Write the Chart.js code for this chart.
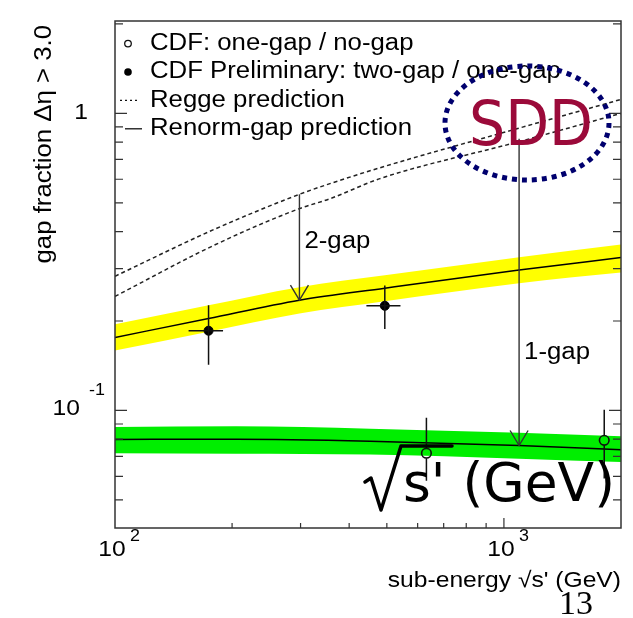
<!DOCTYPE html>
<html>
<head>
<meta charset="utf-8">
<script src="https://cdn.jsdelivr.net/npm/chart.js@4.4.1/dist/chart.umd.min.js"></script>
<style>
  html, body { margin: 0; padding: 0; background: #ffffff; }
  canvas { display: block; }
</style>
</head>
<body>
<canvas id="gapChart" width="633" height="618"></canvas>
<script>
// --- data (sub-energy in GeV, gap fraction) ---

// yellow band: two-gap / one-gap Renorm-gap prediction
const yellowX = [100, 174, 298, 494, 1094, 2000];
const yellowMid = [0.176, 0.204, 0.235, 0.258, 0.297, 0.327];
const yellowHi = [0.195, 0.226, 0.260, 0.285, 0.328, 0.362];
const yellowLo = [0.159, 0.184, 0.212, 0.233, 0.268, 0.291];

// green band: one-gap / no-gap Renorm-gap prediction
const greenX = [100, 205, 453, 1094, 2000];
const greenMid = [0.0799, 0.0800, 0.0788, 0.0762, 0.0737];
const greenHi = [0.0879, 0.0884, 0.0868, 0.0841, 0.0819];
const greenLo = [0.0718, 0.0715, 0.0710, 0.0688, 0.0670];

// Regge predictions (dotted)
const reggeX = [100, 180, 298, 357, 480, 1094, 2000];
const reggeUpper = [0.283, 0.407, 0.534, 0.580, 0.656, 0.892, 1.114];
const reggeLower = [0.242, 0.360, 0.478, 0.516, 0.603, 0.803, 1.000];

// CDF Preliminary: two-gap / one-gap (filled)
const twoGapX = [174, 494];
const twoGapY = [0.1855, 0.225];
const twoGapYLo = [0.1426, 0.188];
const twoGapYHi = [0.226, 0.2636];
const twoGapXLo = [154.6, 443];
const twoGapXHi = [189.6, 542];

// CDF: one-gap / no-gap (open)
const oneGapX = [632, 1811];
const oneGapY = [0.0718, 0.0793];
const oneGapYLo = [0.058, 0.059];
const oneGapYHi = [0.0945, 0.1005];

// suppression arrows
const arrowX = [298, 1094];
const arrowFrom = [0.534, 0.822];
const arrowTo = [0.235, 0.0762];
const arrowText = ['2-gap', '1-gap'];
const arrowTextY = [0.371, 0.157];

// axes
const xRange = [100, 2000];
const yRange = [0.0402, 2.046];
const xMajorTicks = [1000];
const xMinorTicks = [200, 300, 400, 500, 600, 700, 800, 900];
const yMajorTicks = [0.1, 1];
const yMinorTicks = [0.05, 0.06, 0.07, 0.08, 0.09, 0.2, 0.3, 0.4, 0.5, 0.6, 0.7, 0.8, 0.9, 2];
const xTickLabels = [[100, '10', '2'], [1000, '10', '3']];
const yTickLabels = [[1, '1', ''], [0.1, '10', '-1']];

const legendItems = [
    ['open', 'CDF: one-gap / no-gap'],
    ['filled', 'CDF Preliminary: two-gap / one-gap'],
    ['dotted', 'Regge prediction'],
    ['solid', 'Renorm-gap prediction']
];
const xTitle = "sub-energy \u221As' (GeV)";
const yTitle = 'gap fraction \u0394\u03B7 > 3.0';

const SANS = '"Liberation Sans", Arial, Helvetica, sans-serif';
const STRETCH = 1.12;

function pts(xs, ys) {
    return xs.map((x, i) => ({ x: x, y: ys[i] }));
}

// text with the slight horizontal stretch of the original scan
function txt(ctx, s, x, y, size, align, color, font) {
    ctx.save();
    ctx.translate(x, y);
    ctx.scale(STRETCH, 1);
    ctx.font = size + 'px ' + (font || SANS);
    ctx.fillStyle = color || '#000';
    ctx.textAlign = align || 'left';
    ctx.textBaseline = 'middle';
    ctx.fillText(s, 0, 0);
    ctx.restore();
}

function arrowHead(ctx, x, y) {
    ctx.beginPath();
    ctx.moveTo(x - 9, y - 15);
    ctx.lineTo(x, y);
    ctx.lineTo(x + 9, y - 15);
    ctx.stroke();
}

const overlay = {
    id: 'overlay',
    afterDatasetsDraw(chart) {
        const { ctx, scales: { x, y } } = chart;
        ctx.save();
        ctx.strokeStyle = '#111';
        ctx.lineWidth = 1.5;

        // error bars, filled points
        twoGapX.forEach((v, i) => {
            const px = x.getPixelForValue(v), py = y.getPixelForValue(twoGapY[i]);
            ctx.beginPath();
            ctx.moveTo(px, y.getPixelForValue(twoGapYHi[i]));
            ctx.lineTo(px, y.getPixelForValue(twoGapYLo[i]));
            ctx.moveTo(x.getPixelForValue(twoGapXLo[i]), py);
            ctx.lineTo(x.getPixelForValue(twoGapXHi[i]), py);
            ctx.stroke();
        });
        // error bars, open points (stop at the circle)
        oneGapX.forEach((v, i) => {
            const px = x.getPixelForValue(v), py = y.getPixelForValue(oneGapY[i]);
            ctx.beginPath();
            ctx.moveTo(px, y.getPixelForValue(oneGapYHi[i]));
            ctx.lineTo(px, py - 5);
            ctx.moveTo(px, py + 5);
            ctx.lineTo(px, y.getPixelForValue(oneGapYLo[i]));
            ctx.stroke();
        });

        // arrows
        ctx.strokeStyle = '#333';
        ctx.lineWidth = 1.4;
        arrowX.forEach((v, i) => {
            const px = x.getPixelForValue(v);
            const y1 = y.getPixelForValue(arrowFrom[i]), y2 = y.getPixelForValue(arrowTo[i]);
            ctx.beginPath();
            ctx.moveTo(px, y1);
            ctx.lineTo(px, y2);
            ctx.stroke();
            arrowHead(ctx, px, y2);
            txt(ctx, arrowText[i], px + 5, y.getPixelForValue(arrowTextY[i]), 23, 'left');
        });
        ctx.restore();
    },
    afterDraw(chart) {
        const { ctx, chartArea: a, scales: { x, y } } = chart;
        ctx.save();

        // frame
        ctx.strokeStyle = '#333';
        ctx.lineWidth = 1.5;
        ctx.strokeRect(a.left, a.top, a.right - a.left, a.bottom - a.top);

        // tick marks, pointing inward
        ctx.lineWidth = 1.2;
        ctx.beginPath();
        yMajorTicks.concat(yMinorTicks).forEach(v => {
            const len = yMajorTicks.includes(v) ? 12 : 8;
            const py = y.getPixelForValue(v);
            ctx.moveTo(a.left, py); ctx.lineTo(a.left + len, py);
            ctx.moveTo(a.right, py); ctx.lineTo(a.right - len, py);
        });
        xMajorTicks.concat(xMinorTicks).forEach(v => {
            const len = xMajorTicks.includes(v) ? 10 : 5;
            const px = x.getPixelForValue(v);
            ctx.moveTo(px, a.bottom); ctx.lineTo(px, a.bottom - len);
        });
        ctx.stroke();

        // tick labels
        yTickLabels.forEach(([v, base, sup]) => {
            const py = y.getPixelForValue(v);
            if (sup) {
                txt(ctx, base, a.left - 35, py - 1, 22, 'right');
                txt(ctx, sup, a.left - 26, py - 20, 16, 'left');
            } else {
                txt(ctx, base, a.left - 27, py, 22, 'right');
            }
        });
        xTickLabels.forEach(([v, base, sup]) => {
            const px = x.getPixelForValue(v);
            txt(ctx, base, px - 3, a.bottom + 22, 22, 'center');
            txt(ctx, sup, px + 15, a.bottom + 9, 16, 'left');
        });

        // axis titles
        txt(ctx, xTitle, a.right, a.bottom + 53, 22, 'right');
        ctx.save();
        ctx.translate(45, a.top + 4);
        ctx.rotate(-Math.PI / 2);
        ctx.scale(STRETCH, 1);
        ctx.font = '23px ' + SANS;
        ctx.fillStyle = '#000';
        ctx.textAlign = 'right';
        ctx.textBaseline = 'middle';
        ctx.fillText(yTitle, 0, 0);
        ctx.restore();

        // legend
        legendItems.forEach(([kind, label], i) => {
            const ly = a.top + 22.6 + i * 28.4;
            const mx = a.left + 13;
            ctx.strokeStyle = '#111';
            ctx.fillStyle = '#000';
            ctx.lineWidth = 1.3;
            ctx.setLineDash([]);
            ctx.beginPath();
            if (kind === 'open') {
                ctx.arc(mx, ly, 3.3, 0, Math.PI * 2);
                ctx.stroke();
            } else if (kind === 'filled') {
                ctx.arc(mx, ly, 3.8, 0, Math.PI * 2);
                ctx.fill();
            } else if (kind === 'dotted') {
                ctx.setLineDash([2, 3]);
                ctx.moveTo(mx - 8, ly); ctx.lineTo(mx + 12, ly);
                ctx.stroke();
                ctx.setLineDash([]);
            } else {
                ctx.moveTo(mx - 3, ly); ctx.lineTo(mx + 14, ly);
                ctx.stroke();
            }
            txt(ctx, label, a.left + 35, ly, 23, 'left');
        });

        // SDD annotation
        ctx.save();
        ctx.strokeStyle = '#00006e';
        ctx.lineWidth = 5;
        ctx.setLineDash([5, 5]);
        ctx.beginPath();
        ctx.ellipse(a.left + 412, a.top + 102, 82, 57, 0, 0, Math.PI * 2);
        ctx.stroke();
        ctx.restore();
        ctx.save();
        ctx.font = '62px "DejaVu Sans", sans-serif';
        ctx.fillStyle = '#9b0a3a';
        ctx.textAlign = 'center';
        ctx.textBaseline = 'middle';
        ctx.fillText('SDD', a.left + 416, a.top + 108, 124);
        ctx.restore();

        // handwritten sqrt(s') (GeV)
        ctx.save();
        ctx.strokeStyle = '#000';
        ctx.lineWidth = 3.5;
        ctx.lineJoin = 'round';
        ctx.lineCap = 'round';
        ctx.beginPath();
        ctx.moveTo(a.left + 250, a.top + 461);
        ctx.lineTo(a.left + 256, a.top + 457);
        ctx.lineTo(a.left + 266, a.top + 489);
        ctx.lineTo(a.left + 286, a.top + 425);
        ctx.lineTo(a.left + 337, a.top + 425);
        ctx.stroke();
        ctx.font = '54px "DejaVu Sans", sans-serif';
        ctx.fillStyle = '#000';
        ctx.textAlign = 'left';
        ctx.textBaseline = 'alphabetic';
        ctx.fillText("s' (GeV)", a.left + 288, a.top + 480, 212);
        ctx.restore();

        // page number
        ctx.font = '34px "Liberation Serif", serif';
        ctx.fillStyle = '#000';
        ctx.textAlign = 'center';
        ctx.textBaseline = 'alphabetic';
        ctx.fillText('13', 576, 614);

        ctx.restore();
    }
};

const ctx = document.getElementById('gapChart').getContext('2d');
const gapChart = new Chart(ctx, {
    type: 'line',
    data: {
        datasets: [
            {
                data: pts(yellowX, yellowLo),
                borderWidth: 0, pointRadius: 0, fill: false,
                cubicInterpolationMode: 'monotone', order: 3
            },
            {
                data: pts(yellowX, yellowHi),
                borderWidth: 0, pointRadius: 0, fill: '-1',
                backgroundColor: '#ffff00',
                cubicInterpolationMode: 'monotone', order: 3
            },
            {
                data: pts(greenX, greenLo),
                borderWidth: 0, pointRadius: 0, fill: false,
                cubicInterpolationMode: 'monotone', order: 3
            },
            {
                data: pts(greenX, greenHi),
                borderWidth: 0, pointRadius: 0, fill: '-1',
                backgroundColor: '#00ee00',
                cubicInterpolationMode: 'monotone', order: 3
            },
            {
                label: 'Renorm-gap prediction',
                data: pts(yellowX, yellowMid),
                borderColor: '#000', borderWidth: 1.5, pointRadius: 0,
                cubicInterpolationMode: 'monotone', order: 2
            },
            {
                data: pts(greenX, greenMid),
                borderColor: '#000', borderWidth: 1.5, pointRadius: 0,
                cubicInterpolationMode: 'monotone', order: 2
            },
            {
                label: 'Regge prediction',
                data: pts(reggeX, reggeUpper),
                borderColor: '#222', borderWidth: 1.5, borderDash: [4, 3], pointRadius: 0,
                cubicInterpolationMode: 'monotone', order: 2
            },
            {
                data: pts(reggeX, reggeLower),
                borderColor: '#222', borderWidth: 1.5, borderDash: [4, 3], pointRadius: 0,
                cubicInterpolationMode: 'monotone', order: 2
            },
            {
                label: 'CDF Preliminary: two-gap / one-gap',
                data: pts(twoGapX, twoGapY),
                showLine: false, pointRadius: 4.5,
                pointBackgroundColor: '#000', pointBorderColor: '#000', order: 1
            },
            {
                label: 'CDF: one-gap / no-gap',
                data: pts(oneGapX, oneGapY),
                showLine: false, pointRadius: 4.8, pointBorderWidth: 1.6,
                pointBackgroundColor: 'rgba(0,0,0,0)', pointBorderColor: '#111', order: 1
            }
        ]
    },
    options: {
        responsive: false,
        animation: false,
        events: [],
        layout: { padding: { left: 115, right: 12, top: 21, bottom: 90 } },
        plugins: {
            legend: { display: false },
            tooltip: { enabled: false }
        },
        scales: {
            x: {
                type: 'logarithmic', min: xRange[0], max: xRange[1],
                ticks: { display: false },
                grid: { display: false, drawTicks: false },
                border: { display: false }
            },
            y: {
                type: 'logarithmic', min: yRange[0], max: yRange[1],
                ticks: { display: false },
                grid: { display: false, drawTicks: false },
                border: { display: false }
            }
        }
    },
    plugins: [overlay]
});
</script>
</body>
</html>
